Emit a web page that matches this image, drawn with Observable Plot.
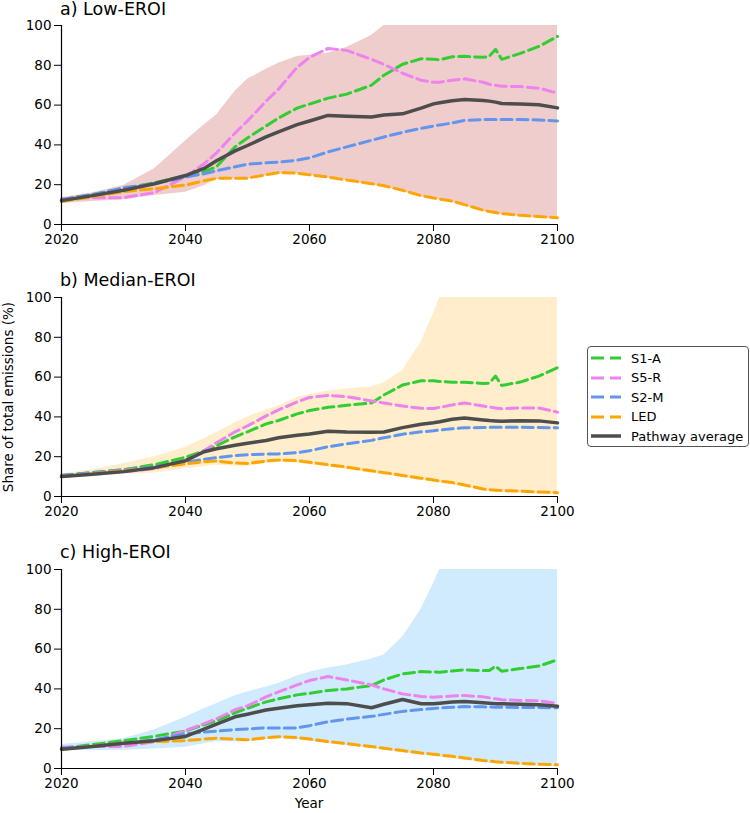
<!DOCTYPE html>
<html><head><meta charset="utf-8">
<script src="https://cdn.jsdelivr.net/npm/d3@7"></script>
<script src="https://cdn.jsdelivr.net/npm/@observablehq/plot@0.6"></script>
<style>
body{margin:0;background:#fff;font-family:"DejaVu Sans",sans-serif;color:#000;}
#root{position:relative;width:750px;height:813px;overflow:hidden;}
.title{position:absolute;left:60px;font-size:17.5px;line-height:17.5px;white-space:nowrap;}
.panel{position:absolute;left:0;}
#legend{position:absolute;left:587px;top:346px;width:160px;height:99px;border:1px solid #555;border-radius:4px;background:#fff;}
.row{position:absolute;left:3px;height:20px;display:flex;align-items:center;font-size:13px;white-space:nowrap;}
.row svg{margin-right:10px;}
#ylab{position:absolute;left:8px;top:397px;font-size:13.5px;white-space:nowrap;transform:translate(-50%,-50%) rotate(-90deg);}
#xlab{position:absolute;left:309px;top:803px;font-size:13.5px;transform:translate(-50%,-50%);}
</style></head>
<body><div id="root"></div>
<script>
const years = [2020,2025,2030,2035,2040,2043,2045,2048,2050,2053,2055,2058,2060,2063,2066,2070,2072,2075,2078,2080,2081,2083,2085,2088,2089,2090,2091,2094,2097,2100];
const xTicks = [2020,2040,2060,2080,2100];
const yTicks = [0,20,40,60,80,100];
const seriesNames = ["S1-A","S5-R","S2-M","LED"];
const seriesColors = ["#32cd32","#ee82ee","#6495ed","#ffa500"];
const avgName = "Pathway average";
const avgColor = "#4d4d4d";
const panelTitles = ["a) Low-EROI","b) Median-EROI","c) High-EROI"];
const bandColors = ["#f0cdcd","#ffedcc","#cfebfd"];

// Panel a) Low-EROI
const lowS1A = [12.5,15,18,21,24.5,26.5,29,39,43.5,49.5,53.5,58.5,60.5,63.5,65.5,70,75,80.5,83.3,83,82.8,84.3,84.5,84,84.5,88,83,86,89.5,94.5];
const lowS5R = [13,13.5,13.5,16,24,30.5,36,46,52,62,68,79,84,88.5,87.5,83,80.5,76,72.5,71.5,71.5,72.5,73.2,71.5,70.5,70,69.5,69.3,68.5,66];
const lowS2M = [12.5,15,18.5,20.5,23.8,25.5,27,29,30.3,31,31.3,32.3,33.5,36.5,39,42.3,44,46.3,48.3,49.5,50,51,52.3,52.7,52.8,52.8,52.8,52.8,52.5,52];
const lowLED = [11.5,14,16.5,18,19.8,22,23.2,23.3,23.3,25,26,25.8,25,23.8,22.4,20.5,19.5,17.2,14.5,13.3,12.8,11.8,10,7.2,6.5,6,5.5,4.6,4,3.4];
const lowAvg = [12,14.5,17.2,20.5,24.6,28.2,32,37,39.7,44,46.6,50.2,52,54.8,54.4,54,55,55.6,58.5,60.6,61.2,62.2,62.8,62.3,62,61.5,60.8,60.6,60.2,58.6];
const lowUpper = [13.5,16,19.6,28,42,50,55,67,73,78,81,84.4,85,86,89,95,100,100,100,100,100,100,100,100,100,100,100,100,100,100];
const lowLower = [10.5,11.6,12.5,14.6,16.2,19.5,22.7,23,23,24.5,25.6,25.5,24.7,23.4,22,20,19,16.7,14,12.8,12.3,11.2,9.5,6.7,6,5.5,5,4,3.4,2.9];

// Panel b) Median-EROI
const medS1A = [10.5,12,13.5,16,19.7,23,25.5,30,32.5,36.5,38.2,41.5,43.2,44.8,45.8,47,51,56,58.2,58.2,57.8,57.4,57.4,56.8,57,60.5,55.8,57.5,60.5,64.7];
const medS5R = [10.5,11.5,12.5,14,18.1,23,27,32.5,35.5,40.5,43.5,47.5,49.8,50.8,50.2,48,47,45.5,44.3,44.2,44.8,46,47,45.5,45,44.5,44.1,44.5,44.5,42.4];
const medS2M = [10.5,12,13.5,15,17.2,18.7,19.5,20.6,21,21.3,21.4,22,23,25,26.5,28.2,29.5,31.3,32.5,33,33.4,34,34.5,34.7,34.8,34.8,34.8,34.8,34.7,34.5];
const medLED = [10,11.5,13,14.5,16.4,17.5,17.8,16.8,16.6,17.8,18.4,18,17.2,16,14.8,12.9,12,10.6,9.2,8.3,7.8,7,5.8,3.8,3.4,3.2,3,2.7,2.3,1.9];
const medAvg = [10,11.2,12.5,14.5,18,22.5,24,25.8,26.8,28.1,29.5,30.8,31.4,32.8,32.4,32.3,32.4,34.6,36.3,37.1,37.6,38.8,39.5,38.5,38.2,38,37.8,38.1,38,37];
const medUpper = [11.4,13.5,16.4,20,24.8,29,32,37,40,43.5,45.5,49.8,51.3,53,54,55,57,63.3,77.5,92,100,100,100,100,100,100,100,100,100,100];
const medLower = [9,10,11,11.8,13.9,15,15.7,15.3,15.2,16.5,17.1,16.8,16,14.8,13.6,11.8,10.9,9.5,8.1,7.2,6.7,5.9,4.7,2.8,2.4,2.2,2,1.6,1.2,0.8];

// Panel c) High-EROI
const highS1A = [10.2,12,14,16.2,18.8,22,24,28,30.3,33.5,35,37,37.8,39.2,40,41.7,44.5,47.5,48.7,48.5,48.4,49,49.6,49.2,49.2,51.4,48.9,50.2,51.5,54.6];
const highS5R = [10.7,11,11.1,13.5,19.1,22.5,25,29.5,31.5,36,38.5,42,44.2,46.2,44.5,42,40,37.5,36.2,35.8,36,36.4,36.7,36,35.5,35,34.5,34.2,34,32.8];
const highS2M = [10.2,11.3,12.4,14.5,17.4,18.3,18.8,19.5,19.9,20.4,20.4,20.4,21.5,23.5,24.8,26.2,27.2,28.7,29.6,30.2,30.4,30.8,31.1,31,30.9,30.8,30.8,30.7,30.6,30.5];
const highLED = [9.5,11.3,12.8,13.5,14,14.8,15.2,14.8,14.4,15.5,16,15.5,14.8,13.5,12.5,11,10.2,9,7.8,7.2,6.8,6.1,5.3,4,3.7,3.4,3.2,2.6,2.2,1.9];
const highAvg = [9.7,11,12.7,14,16.1,19.8,22.3,26,27.3,29.4,30.3,31.5,32,32.8,32.6,30.5,32.3,34.7,32.5,32.5,32.8,33.4,33.7,33,32.8,32.6,32.5,32.3,32,31.3];
const highUpper = [12,13.5,15,19.5,25.8,30,32.5,36.5,38.5,41,42.7,46.5,48.4,50.5,52,55,57,66,80,93,100,100,100,100,100,100,100,100,100,100];
const highLower = [9,9,9.2,9.8,10.7,12.5,13.5,13.5,13.4,14.5,15,14.5,13.8,12.5,11.5,10,9.2,8,6.8,6.2,5.8,5.1,4.3,3,2.7,2.4,2.2,1.6,1.2,0.9];

const panels = [
  {series:[lowS1A,lowS5R,lowS2M,lowLED], avg:lowAvg, upper:lowUpper, lower:lowLower},
  {series:[medS1A,medS5R,medS2M,medLED], avg:medAvg, upper:medUpper, lower:medLower},
  {series:[highS1A,highS5R,highS2M,highLED], avg:highAvg, upper:highUpper, lower:highLower}
];

const root = document.getElementById("root");
const plotTops = [25, 297, 569];
const titleTops = [0.8, 272, 544];
const mTop = 10;

panels.forEach((p, k) => {
  const band = years.map((yr, i) => ({year: yr, lo: p.lower[i], hi: p.upper[i]}));
  const lineRows = [];
  p.series.forEach((vals, s) => vals.forEach((v, i) => lineRows.push({year: years[i], value: v, name: seriesNames[s]})));
  const avgRows = years.map((yr, i) => ({year: yr, value: p.avg[i]}));
  const chart = Plot.plot({
    width: 565, height: 239,
    marginLeft: 61, marginRight: 8, marginTop: mTop, marginBottom: 30,
    style: {fontFamily: "DejaVu Sans, sans-serif", fontSize: "13.5px", color: "#000", background: "transparent", overflow: "visible"},
    x: {domain: [2020, 2100], ticks: xTicks, tickFormat: d => String(d), tickSize: 7, tickPadding: 3, label: null},
    y: {domain: [0, 100], ticks: yTicks, tickSize: 7, tickPadding: 3, label: null},
    color: {domain: seriesNames, range: seriesColors},
    marks: [
      Plot.areaY(band, {x: "year", y1: "lo", y2: "hi", fill: bandColors[k]}),
      Plot.lineY(lineRows, {x: "year", y: "value", z: "name", stroke: "name", strokeWidth: 3, strokeDasharray: "11,5", strokeLinejoin: "round"}),
      Plot.lineY(avgRows, {x: "year", y: "value", stroke: avgColor, strokeWidth: 3.5}),
      Plot.ruleY([0], {stroke: "#000", strokeWidth: 1.2}),
      Plot.ruleX([2020], {stroke: "#000", strokeWidth: 1.2})
    ]
  });
  chart.classList.add("panel");
  chart.style.top = (plotTops[k] - mTop) + "px";
  root.appendChild(chart);
  const t = document.createElement("div");
  t.className = "title";
  t.style.top = titleTops[k] + "px";
  t.textContent = panelTitles[k];
  root.appendChild(t);
});

// Legend
const legend = document.createElement("div");
legend.id = "legend";
const names = seriesNames.concat([avgName]);
const colors = seriesColors.concat([avgColor]);
names.forEach((n, i) => {
  const row = document.createElement("div");
  row.className = "row";
  row.style.top = (1 + i * 19.6) + "px";
  const dashed = i < seriesNames.length;
  row.innerHTML = `<svg width="30" height="6"><line x1="0" x2="30" y1="3" y2="3" stroke="${colors[i]}" stroke-width="${dashed ? 3 : 3.5}" ${dashed ? 'stroke-dasharray="13,6"' : ''}/></svg><span>${n}</span>`;
  legend.appendChild(row);
});
root.appendChild(legend);

const yl = document.createElement("div");
yl.id = "ylab"; yl.textContent = "Share of total emissions (%)";
root.appendChild(yl);
const xl = document.createElement("div");
xl.id = "xlab"; xl.textContent = "Year";
root.appendChild(xl);
</script>
</body></html>
